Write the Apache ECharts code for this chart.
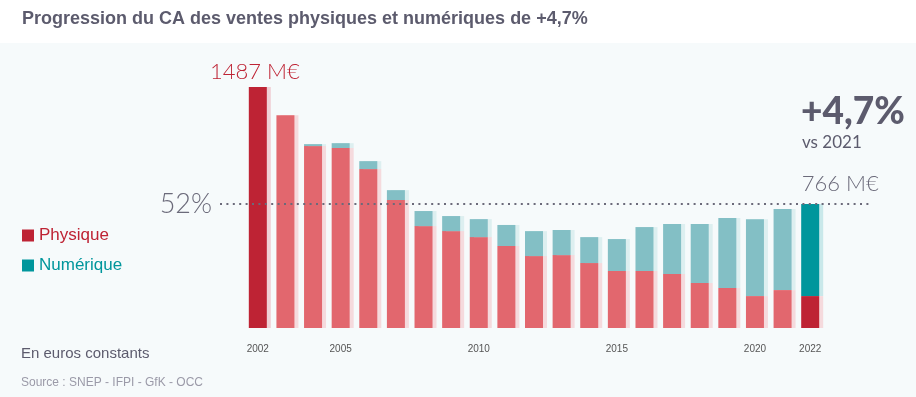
<!DOCTYPE html>
<html>
<head>
<meta charset="utf-8">
<script src="https://cdn.jsdelivr.net/npm/echarts@6/dist/echarts.min.js"></script>
<style>
  html, body { margin: 0; padding: 0; background: #f6fafb; }
  #main { width: 916px; height: 397px; }
</style>
</head>
<body>
<div id="main"></div>
<script>
// CA en M€ (euros constants)
var annees = ['2002','2003','2004','2005','2006','2007','2008','2009','2010','2011','2012',
              '2013','2014','2015','2016','2017','2018','2019','2020','2021','2022'];
var physique = [1487, 1314, 1123, 1111, 981, 790, 629, 598, 561, 506, 444,
                450, 401, 352, 352, 333, 278, 247, 197, 234, 197];
var numerique = [0, 0, 12, 30, 49, 61, 93, 93, 111, 130, 154,
                 155, 160, 197, 271, 309, 364, 432, 475, 500, 569];
var anneesAffichees = ['2002', '2005', '2010', '2015', '2020', '2022'];
var total2022 = 766;
var part2022 = '52%';

var rouge = '#e2676e', rougeFonce = '#be2334';
var bleu = '#83bfc5', bleuFonce = '#00969c';
var gris = '#5c5b6d';
var police = 'Lato';

var dernier = annees.length - 1;

var dataPhysique = physique.map(function (v, i) {
  var item = { value: v };
  if (i === 0) {
    item.itemStyle = { color: rougeFonce, shadowColor: '#efd0d5' };
    item.label = {
      show: true, position: 'top', distance: 4, offset: [-3, 0],
      formatter: '1487 M€', color: rougeFonce,
      fontFamily: police, fontWeight: 300, fontSize: 22
    };
  }
  if (i === dernier) {
    item.itemStyle = { color: rougeFonce };
  }
  return item;
});

var dataNumerique = numerique.map(function (v, i) {
  var item = { value: v };
  if (i === dernier) {
    item.itemStyle = { color: bleuFonce, shadowColor: '#c9e8ea' };
    item.label = {
      show: true, position: 'top', distance: 9, offset: [30, 0],
      formatter: total2022 + ' M€', color: '#6b6a7a',
      fontFamily: police, fontWeight: 300, fontSize: 22
    };
  }
  return item;
});

var myChart = echarts.init(document.getElementById('main'));

var option = {
  backgroundColor: '#f6fafb',
  animation: false,
  graphic: [{
    type: 'rect', left: 0, top: 0, z: -10,
    shape: { width: 916, height: 43 },
    style: { fill: '#ffffff' }
  }],
  title: [{
    text: 'Progression du CA des ventes physiques et numériques de +4,7%',
    left: 17, top: 5,
    textStyle: { fontFamily: 'Liberation Sans', fontWeight: 'bold', fontSize: 18, color: gris }
  }, {
    text: '+4,7%',
    left: 796, top: 89,
    textStyle: { fontFamily: police, fontWeight: 900, fontSize: 37, color: gris }
  }, {
    text: 'vs 2021',
    left: 797, top: 129,
    textStyle: { fontFamily: police, fontWeight: 'normal', fontSize: 17, color: gris }
  }, {
    text: 'En euros constants',
    left: 16, top: 341,
    textStyle: { fontFamily: 'Liberation Sans', fontWeight: 'normal', fontSize: 15, color: gris }
  }, {
    text: 'Source : SNEP - IFPI - GfK - OCC',
    left: 16, top: 372,
    textStyle: { fontFamily: 'Liberation Sans', fontWeight: 'normal', fontSize: 12, color: '#9b9aa8' }
  }],
  legend: {
    orient: 'vertical',
    left: 17, top: 222,
    itemWidth: 12, itemHeight: 12, itemGap: 13,
    icon: 'rect',
    selectedMode: false,
    itemStyle: { shadowBlur: 0, shadowOffsetX: 0, shadowColor: 'transparent' },
    textStyle: { fontFamily: 'Liberation Sans', fontSize: 17 },
    data: [
      { name: 'Physique', itemStyle: { color: rougeFonce }, textStyle: { color: rougeFonce } },
      { name: 'Numérique', itemStyle: { color: bleuFonce }, textStyle: { color: bleuFonce } }
    ]
  },
  grid: { left: 244, right: 92, top: 85, bottom: 69 },
  xAxis: {
    type: 'category',
    data: annees,
    axisLine: { show: false },
    axisTick: { show: false },
    axisLabel: {
      margin: 16,
      fontFamily: 'Liberation Sans', fontSize: 10, color: '#555',
      interval: function (index, value) {
        return anneesAffichees.indexOf(value) !== -1;
      }
    }
  },
  yAxis: {
    type: 'value', min: 0, max: 1500, show: false,
    splitLine: { show: false }
  },
  series: [{
    name: 'Physique',
    type: 'bar',
    stack: 'ca',
    barWidth: 18,
    data: dataPhysique,
    itemStyle: { color: rouge, shadowColor: '#f5dadd', shadowOffsetX: 4, shadowBlur: 0 },
    emphasis: { disabled: true }
  }, {
    name: 'Numérique',
    type: 'bar',
    stack: 'ca',
    barWidth: 18,
    data: dataNumerique,
    itemStyle: { color: bleu, shadowColor: '#ddeff0', shadowOffsetX: 4, shadowBlur: 0 },
    emphasis: { disabled: true },
    markLine: {
      silent: true,
      symbol: 'none',
      lineStyle: { color: '#6b6a7a', width: 2, type: [2, 4.4], opacity: 1 },
      label: {
        show: true, position: 'start', distance: 8,
        formatter: part2022, color: '#6b6a7a',
        fontFamily: police, fontWeight: 300, fontSize: 27,
        padding: [0, 0, 19, 0]
      },
      data: [[{ yAxis: total2022, x: 220 }, { yAxis: total2022, x: 869 }]]
    }
  }]
};

myChart.setOption(option);
</script>
</body>
</html>
